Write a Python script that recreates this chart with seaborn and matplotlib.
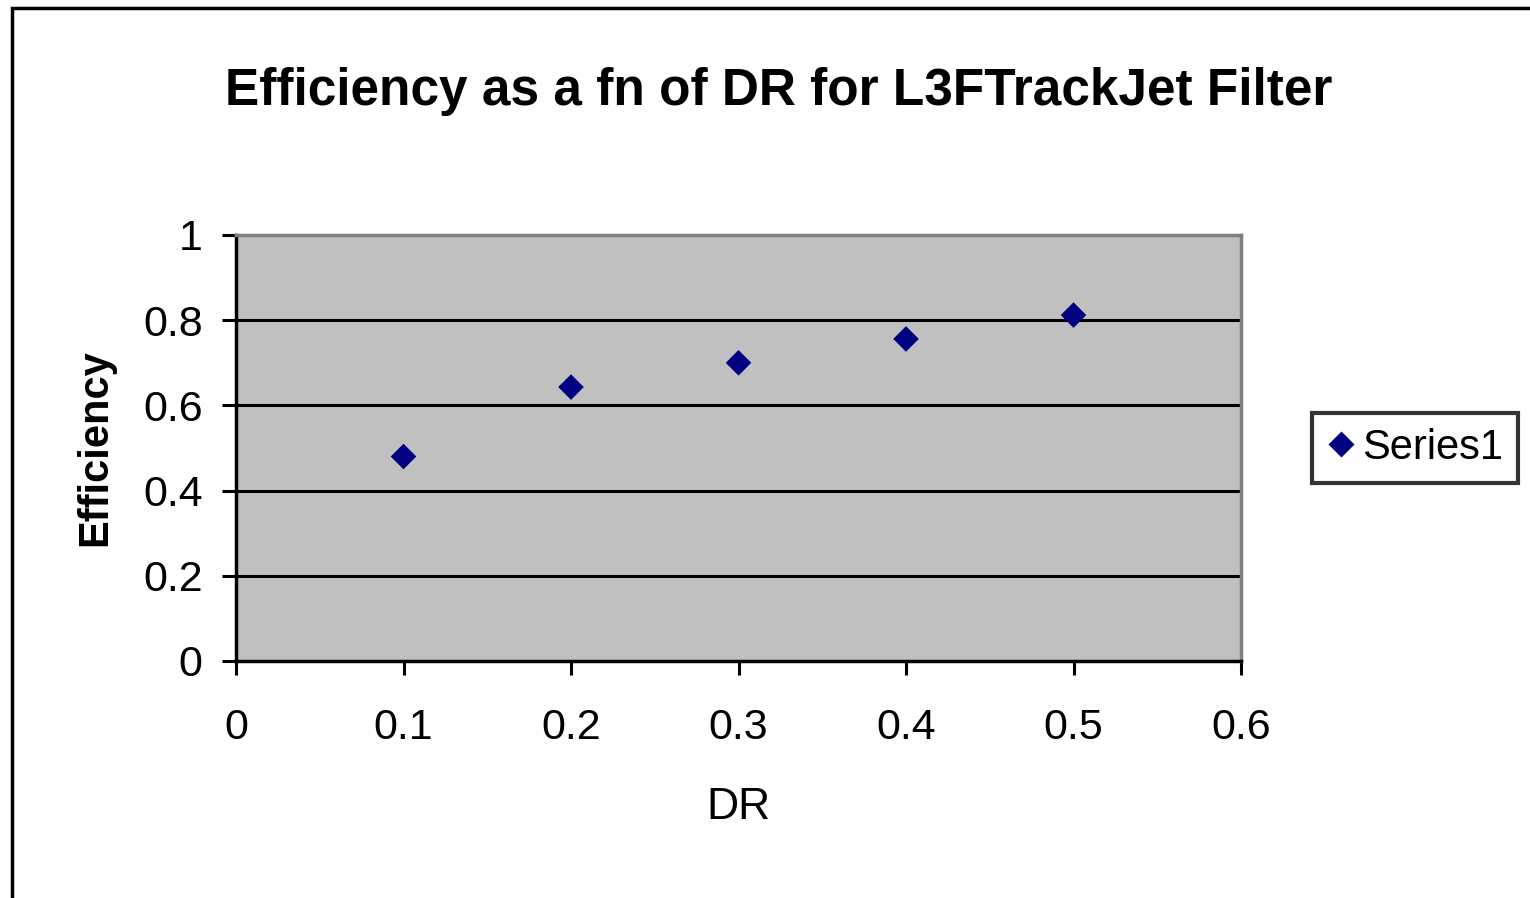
import matplotlib
matplotlib.use("Agg")
import matplotlib.pyplot as plt
import seaborn as sns
import pandas as pd
from matplotlib.patches import Rectangle

# data
dr = [0.1, 0.2, 0.3, 0.4, 0.5]
efficiency = [0.48, 0.643, 0.70, 0.756, 0.812]
x_ticks = [0, 0.1, 0.2, 0.3, 0.4, 0.5, 0.6]
y_ticks = [0, 0.2, 0.4, 0.6, 0.8, 1]

df = pd.DataFrame({"DR": dr, "Efficiency": efficiency, "series": "Series1"})

sns.set_style("white")
plt.rcParams['font.family'] = ['Liberation Sans', 'DejaVu Sans']
plt.rcParams.update({"text.color": "black", "axes.labelcolor": "black",
                     "xtick.color": "black", "ytick.color": "black"})

W, H = 1530, 898
fig = plt.figure(figsize=(W / 100, H / 100), dpi=100)
ax = fig.add_axes([236 / W, 1 - 661 / H, (1241 - 236) / W, (661 - 235) / H])
ax.set_facecolor("#c0c0c0")

sns.scatterplot(data=df, x="DR", y="Efficiency", hue="series", palette=["#000080"],
                marker="D", s=170, edgecolor="none", ax=ax, zorder=3)

ax.set_xlim(0, 0.6)
ax.set_ylim(0, 1)
ax.set_xticks(x_ticks)
ax.set_yticks(y_ticks)
ax.set_xticklabels([f"{t:g}" for t in x_ticks], fontsize=31)
ax.set_yticklabels([f"{t:g}" for t in y_ticks], fontsize=31)

# gridlines at inner y ticks
for yv in y_ticks[1:-1]:
    ax.axhline(yv, color="black", lw=2.2, zorder=1)

for side in ["left", "bottom"]:
    ax.spines[side].set_color("black")
    ax.spines[side].set_linewidth(2.5)
for side in ["top", "right"]:
    ax.spines[side].set_color("#808080")
    ax.spines[side].set_linewidth(2.5)
    ax.spines[side].set_visible(True)

ax.tick_params(axis="both", which="major", bottom=True, left=True, top=False, right=False,
               direction="out", length=10, width=2.2, color="black")
ax.tick_params(axis="y", pad=14)
ax.tick_params(axis="x", pad=24)

ax.set_xlabel("DR", fontsize=32, labelpad=28)
ax.set_ylabel("Efficiency", fontsize=30, fontweight="bold", labelpad=20)

fig.text(779 / W, 1 - 92 / H, "Efficiency as a fn of DR for L3FTrackJet Filter",
         fontsize=37, fontweight="bold", ha="center", va="center")

leg = ax.legend(loc="center left", bbox_to_anchor=(1312 / W, 1 - 448 / H),
                bbox_transform=fig.transFigure, fontsize=30, frameon=True,
                fancybox=False, edgecolor="black", handletextpad=0.15,
                borderpad=0.35, borderaxespad=0, handlelength=0.7, markerscale=1.0)
leg.get_frame().set_linewidth(3)

# outer chart border (left and top visible, right/bottom clipped)
fig.patches.append(Rectangle((12 / W, -0.1), 1.2, 1 - 8 / H + 0.1,
                             transform=fig.transFigure, fill=False,
                             edgecolor="black", lw=2.5))

fig.savefig("out.png", dpi=100)
